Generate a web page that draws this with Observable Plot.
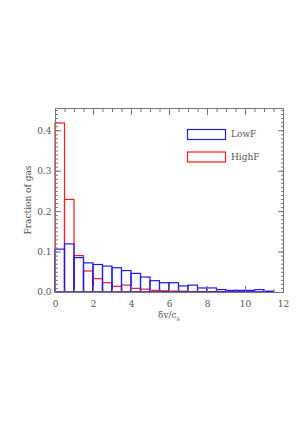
<!DOCTYPE html>
<html><head><meta charset="utf-8">
<script src="https://cdn.jsdelivr.net/npm/d3@7"></script>
<script src="https://cdn.jsdelivr.net/npm/@observablehq/plot@0.6"></script>
<style>body{margin:0;background:#fff;} #c{position:relative;width:298px;height:421px;}</style>
</head><body><div id="c"></div>
<script>
const binStart = [0,0.5,1,1.5,2,2.5,3,3.5,4,4.5,5,5.5,6,6.5,7,7.5,8,8.5,9,9.5,10,10.5,11];
const binWidth = 0.5;
const lowF  = [0.106,0.119,0.085,0.072,0.068,0.064,0.060,0.053,0.046,0.037,0.028,0.023,0.023,0.015,0.017,0.010,0.010,0.006,0.004,0.004,0.004,0.006,0.002];
const highF = [0.418,0.229,0.090,0.052,0.033,0.023,0.014,0.017,0.009,0.007,0.004,0.003,0.002,0.002,0.001,0.001,0.001,0.001,0.0008,0.0006,0.0005,0.0005,0.0005];
const seriesNames = ["LowF","HighF"];
const seriesColors = ["#1a1aff","#ff1a1a"];
const xMajor = [0,2,4,6,8,10,12];
const xMinor = d3.range(0,12.01,0.5);
const yMajor = [0,0.1,0.2,0.3,0.4];
const yMinor = d3.range(0,0.4501,0.01);

const rowsLow = binStart.map((b,i)=>({x1:b,x2:b+binWidth,v:lowF[i]}));
const rowsHigh = binStart.map((b,i)=>({x1:b,x2:b+binWidth,v:highF[i]}));
const axisCol = "#777";
const blank = () => "";

const plot = Plot.plot({
  width:298, height:421,
  marginTop:108, marginRight:15, marginBottom:129, marginLeft:55,
  x:{domain:[0,12]},
  y:{domain:[0,0.455]},
  style:{fontFamily:"DejaVu Serif", fontSize:"9px", color:"#555", background:"white"},
  marks:[
    Plot.rectY(rowsHigh,{x1:"x1",x2:"x2",y1:0,y2:"v",stroke:seriesColors[1],fill:"none",strokeWidth:1.2}),
    Plot.rectY(rowsLow,{x1:"x1",x2:"x2",y1:0,y2:"v",stroke:seriesColors[0],fill:"none",strokeWidth:1.2}),
    Plot.frame({stroke:axisCol}),
    Plot.axisY(yMajor,{anchor:"left",tickSize:0,tickPadding:4,tickFormat:d3.format(".1f"),label:null}),
    Plot.axisY(yMajor,{anchor:"left",tickSize:-6,tickFormat:blank,label:null,stroke:axisCol}),
    Plot.axisY(yMinor,{anchor:"left",tickSize:-3,tickFormat:blank,label:null,stroke:axisCol}),
    Plot.axisY(yMajor,{anchor:"right",tickSize:-6,tickFormat:blank,label:null,stroke:axisCol}),
    Plot.axisY(yMinor,{anchor:"right",tickSize:-3,tickFormat:blank,label:null,stroke:axisCol}),
    Plot.axisX(xMajor,{anchor:"bottom",tickSize:0,tickPadding:8,label:null}),
    Plot.axisX(xMajor,{anchor:"bottom",tickSize:-6,tickFormat:blank,label:null,stroke:axisCol}),
    Plot.axisX(xMinor,{anchor:"bottom",tickSize:-3,tickFormat:blank,label:null,stroke:axisCol}),
    Plot.axisX(xMajor,{anchor:"top",tickSize:-6,tickFormat:blank,label:null,stroke:axisCol}),
    Plot.axisX(xMinor,{anchor:"top",tickSize:-3,tickFormat:blank,label:null,stroke:axisCol})
  ]
});
document.getElementById("c").appendChild(plot);

const svg = d3.select(plot);
const g = svg.append("g").attr("font-family","DejaVu Serif").attr("font-size","9px");
// axis titles
g.append("text").attr("transform","translate(28,200) rotate(-90)").attr("text-anchor","middle")
  .attr("dominant-baseline","middle").attr("fill","#555").text("Fraction of gas");
const xt = g.append("text").attr("x",169).attr("y",318).attr("text-anchor","middle").attr("fill","#555");
xt.append("tspan").text("δv/c");
xt.append("tspan").attr("dy",3).attr("font-size","6.5px").text("s");
// legend
const leg = [[129.5,139.5],[152,162]];
seriesNames.forEach((n,i)=>{
  g.append("rect").attr("x",187.5).attr("y",leg[i][0]).attr("width",38).attr("height",leg[i][1]-leg[i][0])
    .attr("fill","none").attr("stroke",seriesColors[i]).attr("stroke-width",1.2);
  g.append("text").attr("x",231).attr("y",(leg[i][0]+leg[i][1])/2).attr("text-anchor","start")
    .attr("dominant-baseline","middle").attr("fill","#555").text(n);
});
</script></body></html>
